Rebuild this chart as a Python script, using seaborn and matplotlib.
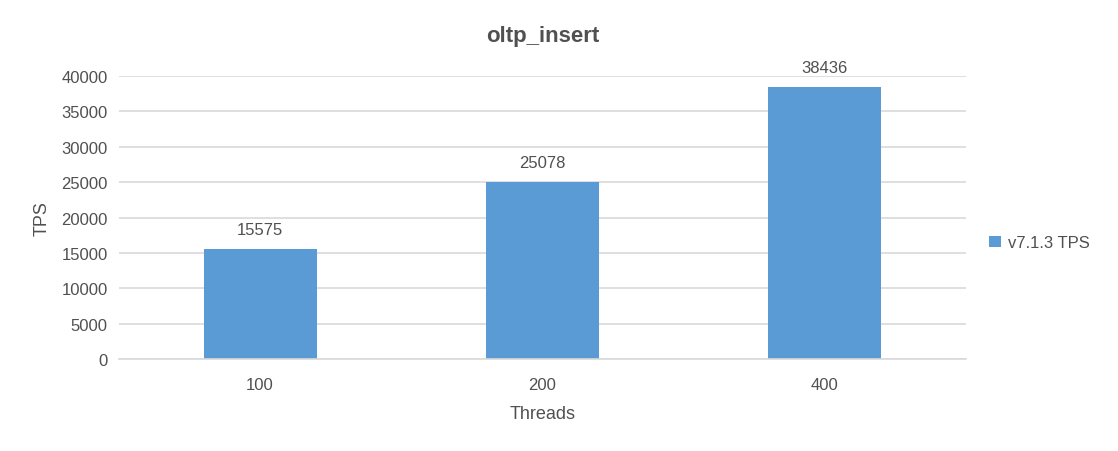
import matplotlib
matplotlib.use('Agg')
import matplotlib.pyplot as plt
import seaborn as sns
import pandas as pd

threads = ['100', '200', '400']
tps = [15575, 25078, 38436]
series = 'v7.1.3 TPS'

text_color = '#505050'
bar_color = '#5B9BD5'

sns.set_style('white')
plt.rcParams['font.family'] = ['Liberation Sans', 'DejaVu Sans']

df = pd.DataFrame({'Threads': threads, 'TPS': tps, 'series': series})

fig = plt.figure(figsize=(11.18, 4.52), dpi=100)
ax = fig.add_axes([0.1064, 0.2035, 0.864 - 0.1064, 0.8296 - 0.2035])

sns.barplot(data=df, x='Threads', y='TPS', hue='series', palette=[bar_color],
            width=0.4, dodge=False, ax=ax, saturation=1, linewidth=0)

ax.set_ylim(0, 40000)
ax.set_yticks(range(0, 40001, 5000))
ax.set_xlim(-0.5, 2.5)
ax.yaxis.grid(True, color='#d9d9d9', linewidth=1.2)
ax.set_axisbelow(True)
for s in ['top', 'right', 'left']:
    ax.spines[s].set_visible(False)
ax.spines['bottom'].set_color('#d9d9d9')
ax.spines['bottom'].set_linewidth(1.2)
ax.tick_params(axis='both', length=0, labelsize=12, colors=text_color)
ax.tick_params(axis='y', pad=8)
ax.tick_params(axis='x', pad=13)

# value labels above each bar
for i, v in enumerate(tps):
    ax.text(i, v + 1650, str(v), ha='center', va='bottom', fontsize=12, color=text_color)

ax.set_xlabel('Threads', fontsize=13, color=text_color, labelpad=9)
ax.set_ylabel('TPS', fontsize=13, color=text_color, labelpad=8)
ax.set_title('oltp_insert', fontsize=16, fontweight='bold', color=text_color, pad=25)

leg = ax.legend(loc='center left', bbox_to_anchor=(1.01, 0.41), frameon=False,
                fontsize=12, handlelength=0.7, handleheight=0.7, handletextpad=0.4)
for t in leg.get_texts():
    t.set_color(text_color)

fig.savefig('out.png', dpi=100, facecolor='white')
